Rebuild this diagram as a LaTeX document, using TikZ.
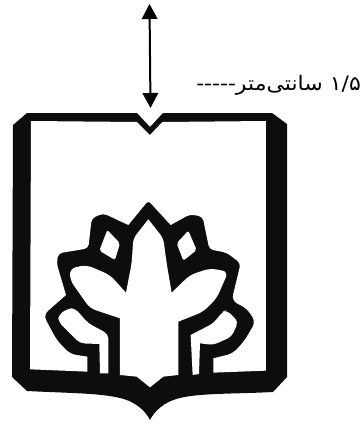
\documentclass[tikz,border=0pt]{standalone}
\usepackage{fontspec}
\usetikzlibrary{arrows.meta}
\TeXXeTstate=1
\newfontfamily\arabicfont[Script=Arabic]{DejaVu Sans}
\tikzset{
  hole/.style={fill=white,draw=none,rounded corners=4.5pt},
  measure/.style={line width=2pt,{Triangle[length=15pt,width=15.5pt]}-{Triangle[length=15pt,width=15.5pt]}}
}
\begin{document}
\begin{tikzpicture}[x=1pt,y=-1pt]
\useasboundingbox (0,0) rectangle (363,425);
% shield
\fill[black!95] (13,125) -- (27,113) -- (137,113) -- (150,127) -- (163,113) -- (272,113) -- (287,124)
  -- (287,377) -- (273,392) .. controls (235,394) and (200,393) .. (180,398) .. controls (163,402) and (154,412) .. (150,420)
  .. controls (146,412) and (137,402) .. (120,398) .. controls (100,393) and (65,393) .. (27,391) -- (12,377) -- cycle;
\begin{scope}[shift={(0,180)},x=0.3333pt,y=-0.3333pt]
% white field inside the frame with the lotus outline left black
\fill[white] (93,-177) -- (411,-174) -- (450,-135) -- (487,-174) -- (798,-177) -- (798,572) -- (640,578) -- (640,535)
  [rounded corners=6pt] -- (700,520) -- (735,480) -- (767,425) -- (740,385) -- (695,362) [rounded corners=4pt] -- (722,250) -- (680,218) -- (628,208) -- (608,110)
  -- (570,103) [sharp corners] -- (512,135) [rounded corners=3pt] -- (445,62) [sharp corners] -- (385,135) [rounded corners=4pt] -- (310,100) -- (275,115) -- (265,205) -- (175,220)
  -- (170,250) [sharp corners] -- (198,345) [rounded corners=6pt] -- (130,405) -- (170,480) -- (210,522) [sharp corners] -- (262,530) -- (262,575) -- (90,568) -- cycle;
% small diamonds
\fill[hole,rounded corners=2pt] (322,150) -- (360,190) -- (345,240) -- (298,212) -- cycle;
\fill[hole,rounded corners=2pt] (565,152) -- (590,210) -- (550,242) -- (530,190) -- cycle;
% central shape
\fill[white] (445,118) [rounded corners=5pt] -- (490,175) -- (500,250) [sharp corners] -- (515,338) [rounded corners=6pt] -- (570,285) -- (630,265) -- (685,275) -- (650,355)
  -- (610,395) [sharp corners] -- (535,425) -- (535,585) -- (490,590) -- (450,622) -- (410,590) -- (360,585) -- (360,415)
  [rounded corners=6pt] -- (270,385) -- (210,300) -- (210,265) -- (260,255) -- (330,285) [sharp corners] -- (378,338) [rounded corners=5pt] -- (395,250) -- (400,175) [sharp corners] -- cycle;
% side shapes
\fill[hole] (205,385) -- (225,385) -- (265,430) -- (325,462) [sharp corners] -- (325,580) -- (300,580) -- (298,492) [rounded corners=4.5pt] -- (240,490) -- (175,425) -- (175,405) -- cycle;
\fill[hole] (680,390) -- (715,425) -- (695,470) -- (640,495) [sharp corners] -- (600,490) -- (597,582) -- (578,585) -- (572,465) [rounded corners=4.5pt] -- (640,430) -- (668,395) -- cycle;
\end{scope}
% measure arrow
\coordinate (top) at (149.5,4);
\coordinate (bottom) at (150.5,108);
\draw[measure] (top) -- (bottom);
\node[anchor=east,inner sep=0pt,xscale=1.1,font=\arabicfont\fontsize{20}{22}\selectfont] (label) at (361,85) {\beginR\beginL ۱/۵\endL{} سانتی‌متر-----\endR};
\end{tikzpicture}
\end{document}
